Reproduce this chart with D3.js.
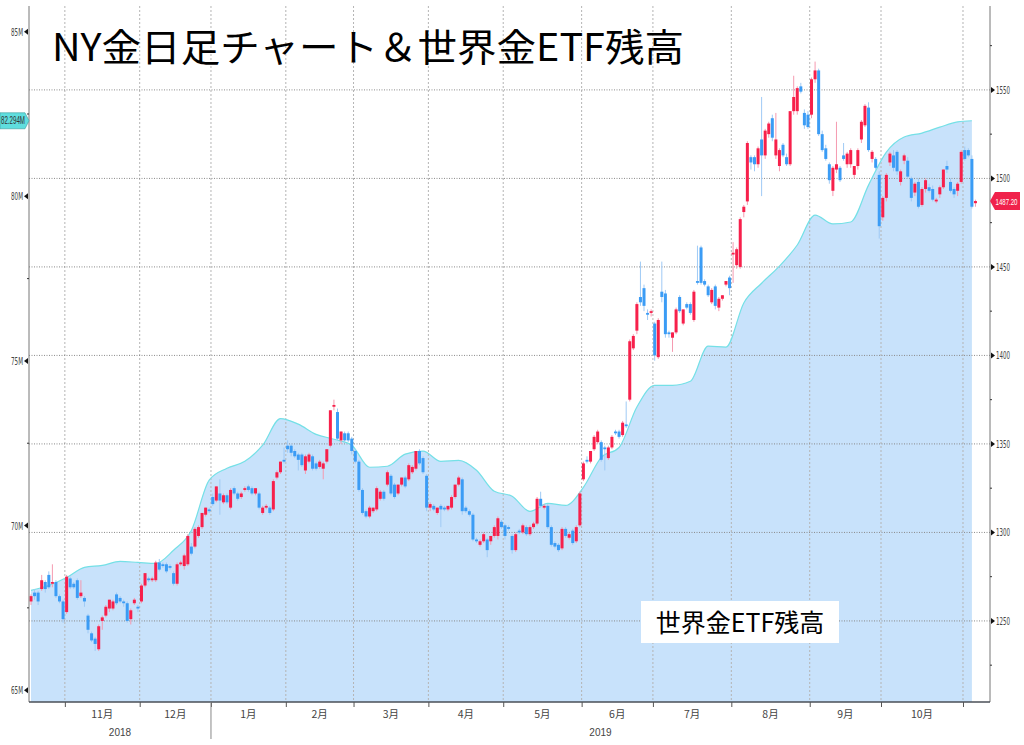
<!DOCTYPE html>
<html>
<head>
<meta charset="utf-8">
<script src="https://cdn.jsdelivr.net/npm/d3@7"></script>
<style>
  body { margin: 0; background: #fff; }
  svg { display: block; }
  .axis text { font-family: "Liberation Sans Narrow", "DejaVu Sans Condensed", sans-serif; font-size: 11px; fill: #444; }
  .axis .domain { display: none; }
</style>
</head>
<body>
<div class="chart"></div>
<script>
// Daily candles of NY gold, one array per month: [open, high, low, close]
var oct18 = [
  [1261,1265,1259,1264],[1266,1268,1262,1264],[1266,1267,1259,1261],[1268,1276,1267,1273],[1272,1273,1266,1268],
  [1276,1278,1268,1269],[1271,1282,1269,1272],[1272,1273,1263,1264],[1264,1265,1260,1261],[1261,1262,1249,1251]
];
var nov18 = [
  [1255,1276,1254,1275],[1274,1275,1268,1269],[1271,1272,1268,1269],[1273,1274,1262,1263],[1264,1273,1263,1266],
  [1263,1264,1258,1261],[1253,1254,1243,1245],[1243,1244,1238,1239],[1240,1241,1233,1237],[1234,1248,1233,1247],
  [1250,1253,1245,1252],[1253,1259,1252,1258],[1257,1262,1255,1262],[1257,1262,1256,1261],[1265,1266,1259,1260],
  [1263,1264,1260,1261],[1261,1262,1258,1260],[1260,1261,1249,1250],[1251,1257,1248,1256],[1260,1263,1259,1262],
  [1258,1259,1255,1257]
];
var dec18 = [
  [1261,1271,1260,1270],[1270,1277,1269,1277],[1274,1275,1272,1273],[1273,1275,1272,1274],[1273,1284,1272,1283],
  [1283,1285,1278,1279],[1282,1283,1280,1281],[1282,1283,1277,1278],[1281,1282,1279,1280],[1277,1278,1270,1271],
  [1271,1283,1270,1282],[1282,1284,1281,1283],[1281,1288,1279,1287],[1282,1299,1281,1298],[1292,1294,1287,1288],
  [1292,1303,1291,1302],[1298,1304,1297,1303],[1303,1311,1302,1311],[1310,1314,1309,1314],[1313,1314,1311,1312]
];
var jan19 = [
  [1320,1322,1315,1316],[1318,1326,1317,1326],[1322,1330,1310,1318],[1317,1322,1316,1321],[1321,1322,1316,1317],
  [1314,1325,1313,1324],[1325,1326,1321,1322],[1322,1323,1318,1319],[1320,1323,1319,1322],[1324,1326,1323,1325],
  [1326,1327,1323,1324],[1325,1326,1321,1322],[1322,1325,1321,1325],[1322,1323,1313,1314],[1311,1315,1310,1314],
  [1314,1316,1313,1315],[1314,1315,1310,1311],[1313,1330,1312,1329],[1331,1335,1330,1334],[1334,1340,1333,1340],
  [1341,1348,1339,1340]
];
var feb19 = [
  [1349,1352,1345,1347],[1349,1350,1343,1345],[1346,1347,1342,1343],[1344,1345,1335,1341],[1344,1345,1337,1338],
  [1335,1344,1333,1343],[1340,1345,1339,1344],[1343,1344,1335,1336],[1339,1340,1335,1336],[1337,1341,1336,1340],
  [1336,1340,1330,1339],[1340,1347,1339,1347],[1349,1369,1348,1369],[1371,1375,1369,1372],[1368,1370,1352,1353],
  [1352,1357,1350,1357],[1356,1357,1351,1352],[1356,1357,1351,1352],[1353,1354,1344,1346]
];
var mar19 = [
  [1346,1347,1339,1340],[1340,1341,1323,1324],[1324,1325,1310,1311],[1312,1313,1308,1309],[1309,1315,1308,1314],
  [1312,1314,1311,1314],[1313,1326,1312,1325],[1319,1324,1318,1323],[1323,1324,1318,1319],[1327,1335,1326,1334],
  [1332,1333,1321,1322],[1327,1328,1319,1320],[1322,1327,1321,1327],[1327,1331,1326,1331],[1331,1332,1325,1326],
  [1330,1339,1329,1338],[1334,1338,1333,1337],[1336,1346,1335,1346],[1346,1347,1338,1339],[1342,1343,1333,1334],
  [1332,1333,1312,1314]
];
var apr19 = [
  [1314,1317,1312,1316],[1315,1316,1312,1313],[1311,1314,1310,1314],[1315,1316,1303,1313],[1314,1315,1312,1313],
  [1313,1315,1312,1315],[1314,1321,1313,1320],[1320,1327,1319,1327],[1327,1332,1326,1331],[1330,1331,1310,1312],
  [1314,1315,1311,1312],[1312,1313,1309,1310],[1310,1311,1295,1296],[1296,1297,1294,1295],[1293,1296,1292,1295],
  [1295,1300,1294,1299],[1296,1297,1286,1290],[1295,1298,1293,1298],[1298,1304,1297,1303],[1298,1309,1296,1308],
  [1306,1307,1302,1303]
];
var may19 = [
  [1304,1305,1296,1298],[1303,1304,1301,1302],[1298,1299,1288,1290],[1290,1300,1289,1299],[1301,1302,1299,1300],
  [1300,1305,1299,1304],[1303,1304,1298,1299],[1299,1304,1298,1303],[1303,1306,1302,1305],[1305,1320,1304,1319],
  [1319,1323,1314,1315],[1314,1316,1313,1315],[1315,1316,1302,1303],[1303,1304,1292,1293],[1294,1295,1291,1292],
  [1293,1294,1289,1290],[1291,1303,1290,1302],[1302,1303,1297,1298],[1297,1300,1296,1299],[1301,1302,1293,1294],
  [1295,1304,1294,1303],[1304,1323,1303,1322]
];
var jun19 = [
  [1330,1340,1329,1339],[1341,1343,1339,1340],[1340,1346,1339,1346],[1347,1355,1346,1354],[1351,1358,1350,1357],
  [1351,1352,1340,1341],[1348,1349,1335,1347],[1342,1349,1341,1348],[1348,1355,1347,1354],[1357,1358,1355,1356],
  [1357,1358,1353,1354],[1355,1363,1354,1362],[1361,1374,1359,1360],[1375,1409,1374,1408],[1404,1412,1403,1411],
  [1414,1430,1412,1429],[1433,1453,1428,1430],[1438,1440,1425,1428],[1424,1426,1420,1423],[1424,1426,1422,1425]
];
var jul19 = [
  [1418,1419,1397,1400],[1399,1421,1398,1420],[1436,1453,1430,1433],[1435,1437,1410,1412],[1413,1414,1410,1412],
  [1410,1413,1402,1413],[1413,1427,1412,1426],[1433,1434,1424,1425],[1418,1426,1417,1426],[1429,1430,1426,1427],
  [1429,1430,1423,1424],[1420,1437,1419,1436],[1442,1462,1440,1441],[1461,1462,1440,1441],[1442,1443,1439,1440],
  [1439,1440,1433,1434],[1430,1438,1429,1437],[1439,1440,1426,1428],[1427,1433,1425,1432],[1432,1434,1431,1434],
  [1440,1442,1439,1442],[1444,1445,1434,1438]
];
var aug19 = [
  [1457,1464,1441,1458],[1451,1461,1449,1460],[1450,1478,1449,1477],[1481,1485,1478,1484],[1487,1521,1485,1520],
  [1512,1513,1505,1509],[1512,1513,1504,1508],[1508,1518,1506,1517],[1522,1546,1490,1513],[1513,1528,1511,1527],
  [1525,1532,1523,1531],[1534,1536,1521,1523],[1513,1537,1511,1522],[1507,1517,1504,1516],[1519,1520,1512,1513],
  [1512,1514,1507,1508],[1508,1538,1507,1538],[1538,1558,1536,1546],[1538,1552,1536,1551],[1552,1554,1548,1549],
  [1537,1539,1528,1530],[1536,1538,1528,1529]
];
var sep19 = [
  [1536,1557,1534,1556],[1556,1566,1554,1561],[1561,1562,1524,1525],[1525,1527,1515,1516],[1517,1519,1510,1511],
  [1508,1509,1497,1499],[1493,1507,1490,1506],[1505,1532,1503,1508],[1506,1507,1498,1499],[1513,1520,1510,1511],
  [1508,1515,1506,1514],[1508,1517,1506,1516],[1502,1507,1500,1507],[1507,1517,1505,1516],[1522,1533,1520,1532],
  [1530,1542,1529,1541],[1540,1543,1515,1516],[1511,1516,1509,1515],[1511,1512,1505,1506],[1502,1504,1466,1473]
];
var oct19 = [
  [1478,1490,1476,1489],[1489,1503,1487,1502],[1509,1515,1507,1514],[1513,1516,1504,1506],[1515,1516,1502,1504],
  [1498,1505,1496,1504],[1510,1514,1508,1513],[1510,1512,1500,1501],[1500,1501,1487,1489],[1492,1498,1490,1497],
  [1498,1500,1483,1484],[1485,1495,1484,1494],[1494,1500,1492,1499],[1495,1497,1492,1493],[1494,1496,1487,1488],
  [1487,1489,1486,1488],[1491,1496,1489,1495],[1495,1505,1494,1505],[1507,1510,1503,1505],[1498,1500,1492,1493],
  [1494,1495,1489,1491],[1493,1498,1490,1497],[1498,1516,1497,1515]
];
var nov19 = [
  [1516,1518,1510,1511],[1516,1517,1512,1513],[1511,1513,1483,1484],[1486,1488,1484,1487.2]
];

// World gold ETF holdings (million oz), one reading every 5 trading days
var etfStep = 5;
var etfValues = [
  68.03, 68.18, 68.42, 68.73, 68.79, 68.91, 68.88, 68.85, 69.25, 69.85,
  71.38, 71.74, 71.95, 72.44, 73.25, 73.08, 72.77, 72.62, 72.44, 71.77,
  71.80, 72.17, 72.26, 71.95, 71.98, 71.68, 71.04, 70.89, 70.43, 70.67,
  70.61, 71.16, 72.07, 72.37, 73.60, 74.26, 74.26, 74.38, 75.45, 75.42,
  76.76, 77.36, 77.88, 78.52, 79.43, 79.16, 79.22, 80.34, 81.34, 81.80,
  81.92, 82.10, 82.26
];
var etfLastDay = 264;
var etfLatest = 82.294;
var lastPrice = 1487.20;

var monthLabels = ["11月", "12月", "1月", "2月", "3月", "4月", "5月", "6月", "7月", "8月", "9月", "10月"];
var yearLabels = ["2018", "2019"];
var priceTicks = [1250, 1300, 1350, 1400, 1450, 1500, 1550];
var priceMinor = [1225, 1275, 1325, 1375, 1425, 1475, 1525, 1575];
var etfTicks = [65, 70, 75, 80, 85];
var etfMinor = [67.5, 72.5, 77.5, 82.5];

// Setup chart
var svgWidth = 1024;
var svgHeight = 745;
var margin = { top: 6, right: 34, bottom: 43, left: 29 };
var width = svgWidth - margin.left - margin.right;
var height = svgHeight - margin.top - margin.bottom;

var svg = d3.select(".chart")
  .append("svg")
  .attr("width", svgWidth)
  .attr("height", svgHeight);
var chart = svg.append("g")
  .attr("transform", "translate(" + margin.left + "," + margin.top + ")");

// Flatten months into one list of trading days
var months = [oct18, nov18, dec18, jan19, feb19, mar19, apr19, may19, jun19, jul19, aug19, sep19, oct19, nov19];
var candles = [];
var monthStarts = [];
months.forEach(function(m) {
  monthStarts.push(candles.length);
  m.forEach(function(d) {
    candles.push({ i: candles.length, o: d[0], h: d[1], l: d[2], c: d[3] });
  });
});

var etfData = etfValues.map(function(v, k) { return { i: k * etfStep, v: v }; });
etfData.push({ i: etfLastDay, v: etfLatest });

// Scales
var xScale = d3.scaleLinear().domain([-0.56, 269.08]).range([0, width]);
var yPrice = d3.scaleLinear().domain([1204.2, 1597.4]).range([height, 0]);
var yEtf = d3.scaleLinear().domain([64.64, 85.78]).range([height, 0]);

// ETF area
var area = d3.area()
  .x(function(d) { return xScale(d.i); })
  .y0(height)
  .y1(function(d) { return yEtf(d.v); })
  .curve(d3.curveMonotoneX);
var line = d3.line()
  .x(function(d) { return xScale(d.i); })
  .y(function(d) { return yEtf(d.v); })
  .curve(d3.curveMonotoneX);

chart.append("path")
  .datum(etfData)
  .attr("d", area)
  .attr("fill", "#c8e2fb");

// Gridlines
var boundaries = monthStarts.slice(1).map(function(s) { return s - 0.5; });
chart.append("g")
  .attr("class", "grid-x")
  .selectAll("line")
  .data(boundaries)
  .enter().append("line")
  .attr("x1", function(d) { return xScale(d); })
  .attr("x2", function(d) { return xScale(d); })
  .attr("y1", 0)
  .attr("y2", height)
  .attr("stroke", "#b4b4b4")
  .attr("stroke-dasharray", "2,2");

chart.append("g")
  .attr("class", "grid-y")
  .selectAll("line")
  .data(priceTicks)
  .enter().append("line")
  .attr("x1", 0)
  .attr("x2", width)
  .attr("y1", function(d) { return yPrice(d); })
  .attr("y2", function(d) { return yPrice(d); })
  .attr("stroke", "#8a8a8a")
  .attr("stroke-dasharray", "1,1.5");

chart.append("path")
  .datum(etfData)
  .attr("d", line)
  .attr("fill", "none")
  .attr("stroke", "#74e0e6")
  .attr("stroke-width", 1.2);

// Candles
var up = "#f7204b", down = "#3b9cf5";
var candleG = chart.append("g").attr("class", "candles");
candleG.selectAll("line")
  .data(candles)
  .enter().append("line")
  .attr("x1", function(d) { return xScale(d.i); })
  .attr("x2", function(d) { return xScale(d.i); })
  .attr("y1", function(d) { return yPrice(d.h); })
  .attr("y2", function(d) { return yPrice(d.l); })
  .attr("stroke", function(d) { return d.c >= d.o ? "#f59ab0" : "#9fcaf5"; })
  .attr("stroke-width", 1);

candleG.selectAll("rect")
  .data(candles)
  .enter().append("rect")
  .attr("x", function(d) { return xScale(d.i) - 1.5; })
  .attr("width", 3)
  .attr("y", function(d) { return yPrice(Math.max(d.o, d.c)); })
  .attr("height", function(d) { return Math.max(1.2, Math.abs(yPrice(d.o) - yPrice(d.c))); })
  .attr("fill", function(d) { return d.c >= d.o ? up : down; });

// Axis lines
chart.append("line").attr("x1", 0).attr("x2", 0).attr("y1", 0).attr("y2", height)
  .attr("stroke", "#777").attr("stroke-width", 1);
chart.append("line").attr("x1", width).attr("x2", width).attr("y1", 0).attr("y2", height)
  .attr("stroke", "#777").attr("stroke-width", 1);
chart.append("line").attr("x1", 0).attr("x2", width).attr("y1", height).attr("y2", height)
  .attr("stroke", "#4a4f57").attr("stroke-width", 1.5);

// Left axis (ETF)
var leftAxis = d3.axisLeft(yEtf).tickValues(etfTicks).tickSize(0).tickPadding(6)
  .tickFormat(function(d) { return d + "M"; });
chart.append("g").attr("class", "axis").call(leftAxis)
  .selectAll("text")
  .attr("textLength", 12)
  .attr("lengthAdjust", "spacingAndGlyphs");
chart.append("g").selectAll("path")
  .data(etfTicks)
  .enter().append("path")
  .attr("d", function(d) { var y = yEtf(d); return "M-5," + y + "L-1," + (y - 3) + "L-1," + (y + 3) + "Z"; })
  .attr("fill", "#111");
chart.append("g").selectAll("line")
  .data(etfMinor)
  .enter().append("line")
  .attr("x1", -2).attr("x2", 0)
  .attr("y1", function(d) { return yEtf(d); })
  .attr("y2", function(d) { return yEtf(d); })
  .attr("stroke", "#333");

// Right axis (price)
var rightAxis = d3.axisRight(yPrice).tickValues(priceTicks).tickSize(0).tickPadding(6)
  .tickFormat(d3.format("d"));
chart.append("g").attr("class", "axis")
  .attr("transform", "translate(" + width + ",0)")
  .call(rightAxis)
  .selectAll("text")
  .attr("textLength", 14)
  .attr("lengthAdjust", "spacingAndGlyphs");
chart.append("g").selectAll("path")
  .data(priceTicks)
  .enter().append("path")
  .attr("d", function(d) { var y = yPrice(d); return "M" + (width + 5) + "," + y + "L" + (width + 1) + "," + (y - 3) + "L" + (width + 1) + "," + (y + 3) + "Z"; })
  .attr("fill", "#111");
chart.append("g").selectAll("line")
  .data(priceMinor)
  .enter().append("line")
  .attr("x1", width).attr("x2", width + 2)
  .attr("y1", function(d) { return yPrice(d); })
  .attr("y2", function(d) { return yPrice(d); })
  .attr("stroke", "#333");

// Bottom axis: month boundaries, month labels, years
var bottomAxis = d3.axisBottom(xScale).tickValues(boundaries).tickSize(5).tickFormat("");
chart.append("g").attr("class", "axis")
  .attr("transform", "translate(0," + height + ")")
  .call(bottomAxis)
  .selectAll("line").attr("stroke", "#555");

chart.append("g").selectAll("text")
  .data(monthLabels)
  .enter().append("text")
  .attr("x", function(d, k) { return (xScale(boundaries[k]) + xScale(boundaries[k + 1])) / 2; })
  .attr("y", height + 16)
  .attr("text-anchor", "middle")
  .attr("font-family", "'Liberation Sans Narrow', 'Noto Sans CJK JP', sans-serif")
  .attr("font-size", "10.5px")
  .attr("fill", "#444")
  .text(function(d) { return d; });

var yearEdge = xScale(monthStarts[3] - 0.5);
chart.append("line")
  .attr("x1", yearEdge).attr("x2", yearEdge)
  .attr("y1", height).attr("y2", height + 37)
  .attr("stroke", "#888");
chart.append("g").selectAll("text")
  .data(yearLabels)
  .enter().append("text")
  .attr("x", function(d, k) { return k === 0 ? yearEdge / 2 : (yearEdge + width) / 2; })
  .attr("y", height + 34)
  .attr("text-anchor", "middle")
  .attr("font-family", "'Liberation Sans Narrow', sans-serif")
  .attr("font-size", "10px")
  .attr("fill", "#444")
  .text(function(d) { return d; });

// Last value markers
var py = yPrice(lastPrice);
chart.append("path")
  .attr("d", "M" + width + "," + py + "L" + (width + 5) + "," + (py - 9) + "L" + (width + 30) + "," + (py - 9) +
    "L" + (width + 30) + "," + (py + 9) + "L" + (width + 5) + "," + (py + 9) + "Z")
  .attr("fill", "#f0224b");
chart.append("text")
  .attr("x", width + 27.5)
  .attr("y", py + 3.5)
  .attr("text-anchor", "end")
  .attr("font-family", "'Liberation Sans Narrow', sans-serif")
  .attr("font-size", "9.5px")
  .attr("textLength", 22)
  .attr("lengthAdjust", "spacingAndGlyphs")
  .attr("fill", "#fff")
  .text(lastPrice.toFixed(2));

var ey = yEtf(etfLatest);
chart.append("path")
  .attr("d", "M0," + ey + "L-4," + (ey - 8) + "L-29," + (ey - 8) + "L-29," + (ey + 8) + "L-4," + (ey + 8) + "Z")
  .attr("fill", "#5fdede")
  .attr("stroke", "#3a9a9a")
  .attr("stroke-width", 0.6);
chart.append("text")
  .attr("x", -28)
  .attr("y", ey + 3.5)
  .attr("font-family", "'Liberation Sans Narrow', sans-serif")
  .attr("font-size", "10px")
  .attr("textLength", 24)
  .attr("lengthAdjust", "spacingAndGlyphs")
  .attr("fill", "#333")
  .text(etfLatest + "M");

// Title and series label
svg.append("text")
  .attr("x", 52)
  .attr("y", 61)
  .attr("font-family", "'Noto Sans CJK JP', sans-serif")
  .attr("font-size", "38px")
  .attr("fill", "#000")
  .attr("textLength", 632)
  .attr("lengthAdjust", "spacingAndGlyphs")
  .text("NY金日足チャート＆世界金ETF残高");

svg.append("rect")
  .attr("x", 641).attr("y", 601)
  .attr("width", 198).attr("height", 42)
  .attr("fill", "#fff");
svg.append("text")
  .attr("x", 740)
  .attr("y", 632)
  .attr("text-anchor", "middle")
  .attr("font-family", "'Noto Sans CJK JP', sans-serif")
  .attr("font-size", "25px")
  .attr("fill", "#000")
  .text("世界金ETF残高");
</script>
</body>
</html>
